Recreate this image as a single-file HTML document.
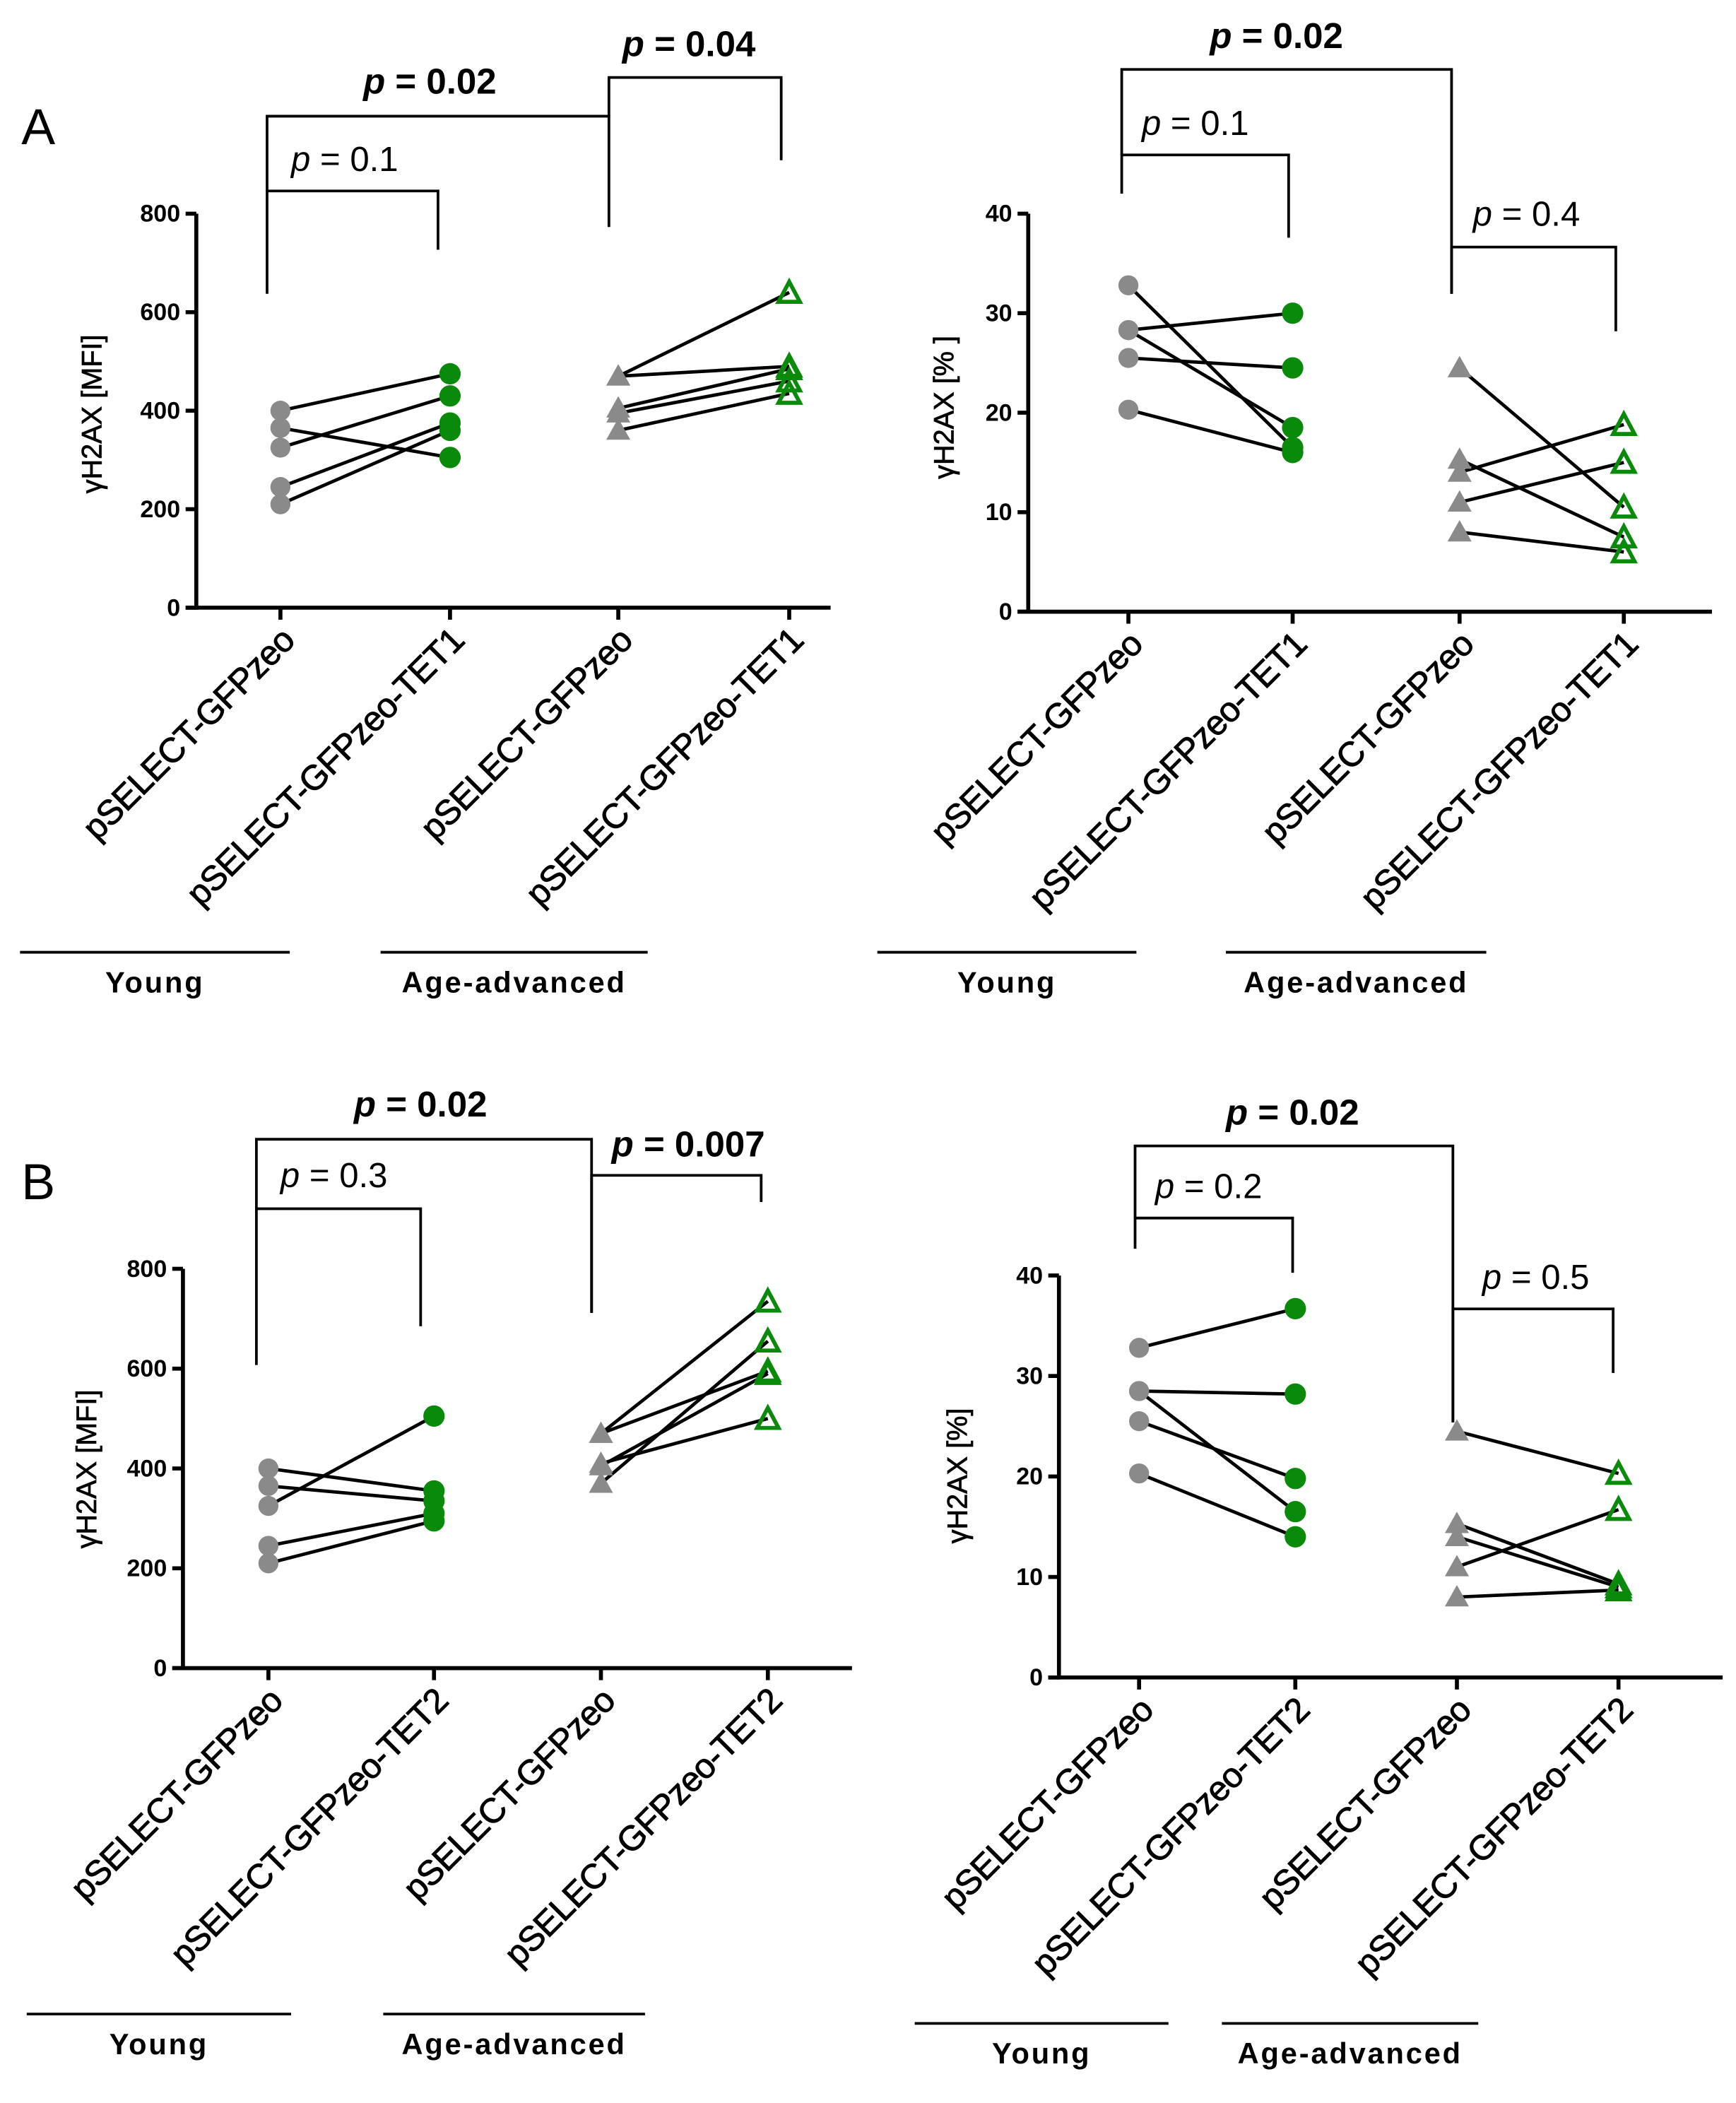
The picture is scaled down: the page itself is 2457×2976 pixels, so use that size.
<!DOCTYPE html>
<html><head><meta charset="utf-8"><style>
html,body{margin:0;padding:0;background:#fff}
svg{display:block}
text{font-family:"Liberation Sans",Arial,sans-serif}
</style></head><body>
<svg id="fig" width="2457" height="2976" viewBox="0 0 1300 1574.6" xmlns="http://www.w3.org/2000/svg">
<text x="16" y="108" font-size="38">A</text>
<text x="16" y="898" font-size="38">B</text>
</svg>
<script>
// Category labels
const catsTET1 = ["pSELECT-GFPzeo","pSELECT-GFPzeo-TET1","pSELECT-GFPzeo","pSELECT-GFPzeo-TET1"];
const catsTET2 = ["pSELECT-GFPzeo","pSELECT-GFPzeo-TET2","pSELECT-GFPzeo","pSELECT-GFPzeo-TET2"];
const ticksMFI = [0,200,400,600,800];
const ticksPct = [0,10,20,30,40];
// Panel A left (MFI, TET1)
const aL_youngCtrl = [400,365,325,245,210];
const aL_youngTet  = [475,305,430,375,360];
const aL_ageCtrl   = [470,470,405,395,360];
const aL_ageTet    = [640,490,485,460,435];
// Panel A right (%, TET1)
const aR_youngCtrl = [32.8,28.3,28.3,25.5,20.3];
const aR_youngTet  = [16.5,30,18.5,24.5,16];
const aR_ageCtrl   = [24.5,15.3,14,11,8];
const aR_ageTet    = [10.5,7.5,18.8,15,6];
// Panel B left (MFI, TET2)
const bL_youngCtrl = [400,365,325,245,210];
const bL_youngTet  = [355,335,505,310,295];
const bL_ageCtrl   = [470,470,405,370,410];
const bL_ageTet    = [735,595,590,655,500];
// Panel B right (%, TET2)
const bR_youngCtrl = [32.8,28.5,28.5,25.5,20.3];
const bR_youngTet  = [36.7,28.2,16.5,19.8,14];
const bR_ageCtrl   = [24.5,15.3,14,11,8];
const bR_ageTet    = [20.3,9.3,9,16.7,8.7];

const NS="http://www.w3.org/2000/svg";
const svg=document.getElementById('fig');
function mk(tag,attrs,parent){const e=document.createElementNS(NS,tag);for(const k in attrs)e.setAttribute(k,attrs[k]);(parent||svg).appendChild(e);return e;}
const GRAY="#8a8a8a",GREEN="#0a8a0a";

function panel(cfg){
  const g=mk('g',{});
  
  
  const y=v=>cfg.y0+(cfg.y1-cfg.y0)*(v-cfg.ticks[0])/(cfg.ticks[cfg.ticks.length-1]-cfg.ticks[0]);
  const x=i=>cfg.xs[i];
  const ya=mk('line',{x1:cfg.ax,y1:cfg.y1,x2:cfg.ax,y2:cfg.y0+1.5,stroke:'#000','stroke-width':3},g);
  
  const xa=mk('line',{x1:cfg.ax-8,y1:cfg.y0,x2:cfg.axEnd,y2:cfg.y0,stroke:'#000','stroke-width':3},g);
  
  cfg.ticks.forEach(t=>{
    mk('line',{x1:cfg.ax-8,y1:y(t),x2:cfg.ax,y2:y(t),stroke:'#000','stroke-width':3},g);
    const tx=mk('text',{x:cfg.ax-12,y:y(t)+6,'font-size':18,'font-weight':'bold','text-anchor':'end'},g);
    tx.textContent=t;
    
  });
  const yl=mk('text',{x:0,y:0,'font-size':21,'text-anchor':'middle',stroke:'#000','stroke-width':0.4,transform:`translate(${cfg.ylx},${cfg.yly}) rotate(-90)`},g);
  yl.textContent=cfg.ylabel;
  
  cfg.cats.forEach((c,i)=>{
    mk('line',{x1:x(i),y1:cfg.y0,x2:x(i),y2:cfg.y0+9,stroke:'#000','stroke-width':3},g);
    const tx=mk('text',{x:0,y:0,'font-size':26,'text-anchor':'end',stroke:'#000','stroke-width':0.5,'letter-spacing':-0.5,transform:`translate(${x(i)+12},${cfg.y0+26}) rotate(-45)`},g);
    tx.textContent=c;
    
  });
  [[cfg.yc,cfg.yt,0,1],[cfg.ac,cfg.at,2,3]].forEach(([a,b,i,j])=>{
    a.forEach((v,k)=>{
      const l=mk('line',{x1:x(i),y1:y(v),x2:x(j),y2:y(b[k]),stroke:'#000','stroke-width':2.5},g);
      
    });
  });
  cfg.yc.forEach(v=>{const c=mk('circle',{cx:x(0),cy:y(v),r:7.5,fill:GRAY},g);});
  cfg.yt.forEach(v=>{const c=mk('circle',{cx:x(1),cy:y(v),r:8,fill:GREEN},g);});
  cfg.ac.forEach(v=>{const X=x(2),Y=y(v);const p=mk('polygon',{points:`${X-9},${Y+7} ${X+9},${Y+7} ${X},${Y-9}`,fill:GRAY},g);});
  cfg.at.forEach(v=>{const X=x(3),Y=y(v);const p=mk('polygon',{points:`${X-8},${Y+7} ${X+8},${Y+7} ${X},${Y-8}`,fill:'none',stroke:GREEN,'stroke-width':3},g);});
  cfg.brackets.forEach(b=>{
    const p=mk('polyline',{points:`${b[0]},${b[1]} ${b[0]},${b[2]} ${b[3]},${b[2]} ${b[3]},${b[4]}`,fill:'none',stroke:'#000','stroke-width':2},g);
    
    const t=mk('text',{x:b[5],y:b[6],'font-size':b[8]?27:26,'font-weight':b[8]?'bold':'normal'},g);
    t.innerHTML=`<tspan font-style="italic">p</tspan> = ${b[7]}`;
    
  });
  cfg.groups.forEach(gr=>{
    mk('line',{x1:gr[0],y1:gr[2],x2:gr[1],y2:gr[2],stroke:'#000','stroke-width':2},g);
    const t=mk('text',{x:(gr[0]+gr[1])/2,y:gr[2]+30,'font-size':22,'font-weight':'bold','text-anchor':'middle','letter-spacing':1.5},g);
    t.textContent=gr[3];
    
  });
}

panel({name:'panel-a-mfi',ticks:ticksMFI,y0:455,y1:160,ax:147,axEnd:622,xs:[210,337,463,591],cats:catsTET1,
  ylabel:'γH2AX [MFI]',ylx:76,yly:310,yc:aL_youngCtrl,yt:aL_youngTet,ac:aL_ageCtrl,at:aL_ageTet,
  brackets:[[200,220,143,328,187,218,128,'0.1',0],[200,143,87,456,170,272,70,'0.02',1],[456,87,58,585,120,466,42,'0.04',1]],
  groups:[[15,217,713,'Young'],[285,485,713,'Age-advanced']]});
panel({name:'panel-a-percent',ticks:ticksPct,y0:458,y1:160,ax:770,axEnd:1282,xs:[845,968,1093,1216],cats:catsTET1,
  ylabel:'γH2AX [% ]',ylx:714,yly:305,yc:aR_youngCtrl,yt:aR_youngTet,ac:aR_ageCtrl,at:aR_ageTet,
  brackets:[[840,145,116,965,178,855,101,'0.1',0],[840,116,52,1087,220,906,36,'0.02',1],[1087,220,185,1210,248,1103,169,'0.4',0]],
  groups:[[657,851,713,'Young'],[918,1113,713,'Age-advanced']]});
panel({name:'panel-b-mfi',ticks:ticksMFI,y0:1249,y1:950,ax:137,axEnd:638,xs:[201,325,450,575],cats:catsTET2,
  ylabel:'γH2AX [MFI]',ylx:72,yly:1100,yc:bL_youngCtrl,yt:bL_youngTet,ac:bL_ageCtrl,at:bL_ageTet,
  brackets:[[192,1022,905,315,993,210,889,'0.3',0],[192,905,853,443,983,265,836,'0.02',1],[443,983,880,570,900,458,866,'0.007',1]],
  groups:[[20,218,1508,'Young'],[287,483,1508,'Age-advanced']]});
panel({name:'panel-b-percent',ticks:ticksPct,y0:1256,y1:955,ax:793,axEnd:1290,xs:[853,970,1091,1212],cats:catsTET2,
  ylabel:'γH2AX [%]',ylx:724,yly:1105,yc:bR_youngCtrl,yt:bR_youngTet,ac:bR_ageCtrl,at:bR_ageTet,
  brackets:[[850,935,912,968,953,865,897,'0.2',0],[850,912,858,1088,1065,918,842,'0.02',1],[1088,1065,980,1208,1028,1110,965,'0.5',0]],
  groups:[[685,875,1515,'Young'],[915,1107,1515,'Age-advanced']]});
</script>
</body></html>
